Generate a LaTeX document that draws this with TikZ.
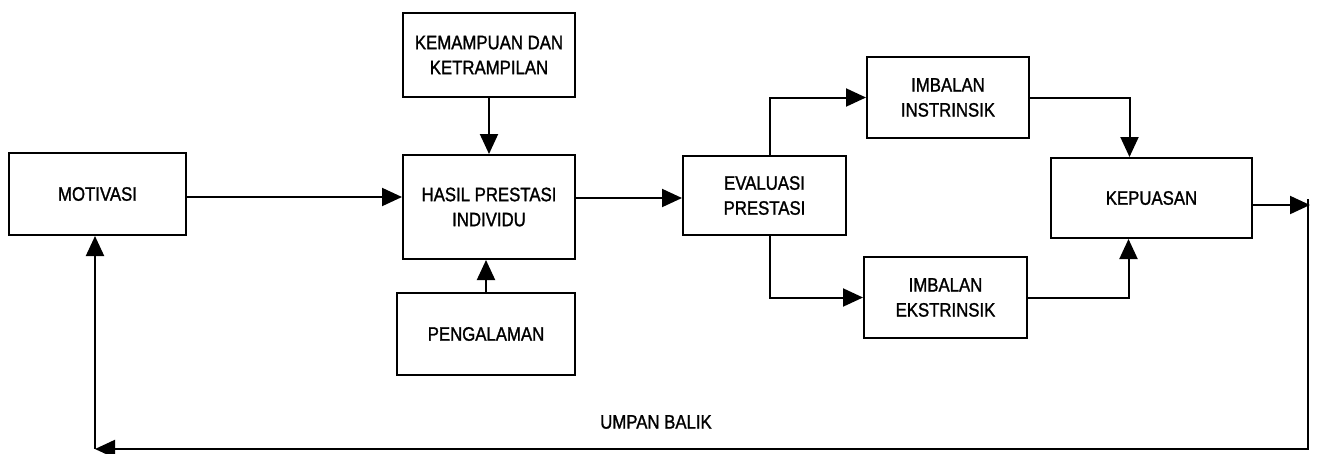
\documentclass[tikz,border=0pt]{standalone}
\usepackage{fontspec}
\setmainfont{Liberation Sans}[FakeStretch=0.86,FakeBold=1.3]
\usetikzlibrary{arrows.meta}
\begin{document}
\begin{tikzpicture}[x=1pt,y=-1pt,
  box/.style={draw,line width=2pt,inner sep=0pt,align=center,
    font=\fontsize{19.5}{25}\selectfont},
  link/.style={line width=2pt},
  arr/.style={link,-{Triangle[length=20pt,width=18pt]}}]
\useasboundingbox (0,0) rectangle (1318,453);

% boxes
\node[box,minimum width=177pt,minimum height=82pt] (mot) at (97.5,194) {MOTIVASI};
\node[box,minimum width=172pt,minimum height=84pt] (kem) at (489,55) {KEMAMPUAN DAN\\KETRAMPILAN};
\node[box,minimum width=172pt,minimum height=104pt] (has) at (489,207) {HASIL PRESTASI\\INDIVIDU};
\node[box,minimum width=178pt,minimum height=82pt] (pen) at (486,334) {PENGALAMAN};
\node[box,minimum width=163pt,minimum height=79pt] (eva) at (764.5,195.5) {EVALUASI\\PRESTASI};
\node[box,minimum width=162pt,minimum height=81pt] (ins) at (948,97.5) {IMBALAN\\INSTRINSIK};
\node[box,minimum width=163pt,minimum height=81pt] (eks) at (945.5,297.5) {IMBALAN\\EKSTRINSIK};
\node[box,minimum width=201pt,minimum height=80pt] (kep) at (1151.5,198) {KEPUASAN};
\node[font=\fontsize{19.5}{25}\selectfont] (lbl) at (656,422) {UMPAN BALIK};

% free ends of the feedback loop
\coordinate (fr) at (1310,205);
\coordinate (br) at (1308,449);
\coordinate (bl) at (95,449);

% forward flow
\draw[arr] (mot.east |- 0,197) -- (has.west |- 0,197);
\draw[arr] (kem.south) -- (has.north);
\draw[arr] (pen.north) -- (pen.north |- has.south);
\draw[arr] (has.east |- 0,198) -- (eva.west |- 0,198);
\draw[arr] ([xshift=5pt]eva.north) |- (ins.west);
\draw[arr] ([xshift=5pt]eva.south) |- (eks.west);
\draw[arr] (ins.east) -| ([xshift=-22pt]kep.north);
\draw[arr] (eks.east) -| ([xshift=-23pt]kep.south);

% feedback
\draw[arr] (kep.east |- fr) -- (fr);
\draw[arr] ([yshift=6pt]fr -| br) -- (br) -- (bl);
\draw[arr] (bl) -- (mot.south -| bl);
\end{tikzpicture}
\end{document}
